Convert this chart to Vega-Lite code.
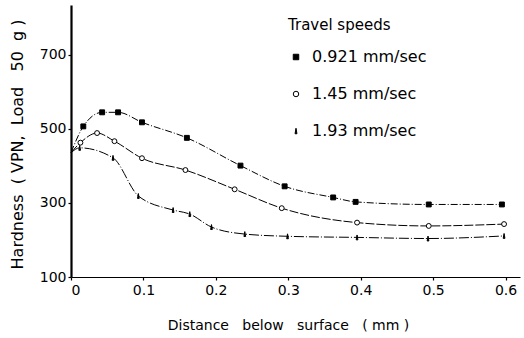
{
  "$schema": "https://vega.github.io/schema/vega-lite/v6.json",
  "width": 449,
  "height": 272,
  "autosize": {"type": "none"},
  "padding": {"left": 71, "top": 5, "right": 4, "bottom": 61},
  "background": "white",
  "config": {
    "view": {"stroke": null},
    "font": "DejaVu Sans",
    "axis": {"grid": false, "domainColor": "black", "tickColor": "black", "labelColor": "black", "titleColor": "black", "labelFont": "DejaVu Sans", "titleFont": "DejaVu Sans", "titleFontWeight": "normal"}
  },
  "data": {
    "values": [
      {"speed": "0.921 mm/sec", "d": 0.0, "hv": 436},
      {"speed": "0.921 mm/sec", "d": 0.017, "hv": 507},
      {"speed": "0.921 mm/sec", "d": 0.043, "hv": 545},
      {"speed": "0.921 mm/sec", "d": 0.065, "hv": 545},
      {"speed": "0.921 mm/sec", "d": 0.098, "hv": 518},
      {"speed": "0.921 mm/sec", "d": 0.160, "hv": 476},
      {"speed": "0.921 mm/sec", "d": 0.234, "hv": 401},
      {"speed": "0.921 mm/sec", "d": 0.295, "hv": 345},
      {"speed": "0.921 mm/sec", "d": 0.362, "hv": 315},
      {"speed": "0.921 mm/sec", "d": 0.393, "hv": 303},
      {"speed": "0.921 mm/sec", "d": 0.494, "hv": 296},
      {"speed": "0.921 mm/sec", "d": 0.595, "hv": 296},
      {"speed": "1.45 mm/sec", "d": 0.0, "hv": 436},
      {"speed": "1.45 mm/sec", "d": 0.013, "hv": 463},
      {"speed": "1.45 mm/sec", "d": 0.036, "hv": 489},
      {"speed": "1.45 mm/sec", "d": 0.060, "hv": 467},
      {"speed": "1.45 mm/sec", "d": 0.098, "hv": 421},
      {"speed": "1.45 mm/sec", "d": 0.158, "hv": 389},
      {"speed": "1.45 mm/sec", "d": 0.226, "hv": 337},
      {"speed": "1.45 mm/sec", "d": 0.291, "hv": 286},
      {"speed": "1.45 mm/sec", "d": 0.395, "hv": 247},
      {"speed": "1.45 mm/sec", "d": 0.494, "hv": 238},
      {"speed": "1.45 mm/sec", "d": 0.598, "hv": 243},
      {"speed": "1.93 mm/sec", "d": 0.0, "hv": 436},
      {"speed": "1.93 mm/sec", "d": 0.012, "hv": 449},
      {"speed": "1.93 mm/sec", "d": 0.058, "hv": 422},
      {"speed": "1.93 mm/sec", "d": 0.093, "hv": 319},
      {"speed": "1.93 mm/sec", "d": 0.141, "hv": 281},
      {"speed": "1.93 mm/sec", "d": 0.164, "hv": 270},
      {"speed": "1.93 mm/sec", "d": 0.194, "hv": 235},
      {"speed": "1.93 mm/sec", "d": 0.240, "hv": 216},
      {"speed": "1.93 mm/sec", "d": 0.299, "hv": 210},
      {"speed": "1.93 mm/sec", "d": 0.395, "hv": 207},
      {"speed": "1.93 mm/sec", "d": 0.493, "hv": 204},
      {"speed": "1.93 mm/sec", "d": 0.598, "hv": 211}
    ]
  },
  "encoding": {
    "x": {
      "field": "d", "type": "quantitative",
      "scale": {"domain": [0, 0.62], "nice": false, "zero": false},
      "axis": {
        "values": [0, 0.1, 0.2, 0.3, 0.4, 0.5, 0.6], "format": "~g",
        "title": "Distance\u00a0\u00a0\u00a0below\u00a0\u00a0\u00a0surface\u00a0\u00a0\u00a0(\u00a0mm\u00a0)",
        "titleFontSize": 14, "titleX": 217, "titleY": 48, "titleBaseline": "middle",
        "labelFontSize": 14, "tickSize": 3, "labelPadding": 3,
        "domainWidth": 1.2, "tickWidth": 1.2
      }
    },
    "y": {
      "field": "hv", "type": "quantitative",
      "scale": {"domain": [100, 835], "nice": false, "zero": false},
      "axis": {
        "values": [100, 300, 500, 700],
        "title": "Hardness\u00a0\u00a0(\u00a0VPN,\u00a0\u00a0Load\u00a0\u00a0\u00a050\u00a0\u00a0g\u00a0)",
        "titleFontSize": 16, "titleX": -54, "titleY": 139, "titleAngle": 270,
        "titleAlign": "center", "titleBaseline": "middle",
        "labelFontSize": 14, "tickSize": 3, "labelPadding": 2,
        "domainWidth": 2.2, "tickWidth": 1.2
      }
    }
  },
  "layer": [
    {
      "mark": {"type": "line", "interpolate": "monotone", "color": "black", "strokeWidth": 1},
      "encoding": {
        "detail": {"field": "speed"},
        "strokeDash": {
          "field": "speed", "type": "nominal", "legend": null,
          "scale": {"range": [[7, 2, 1, 2], [9, 2], [10, 2, 1, 2]]}
        }
      }
    },
    {
      "transform": [{"filter": "datum.d > 0"}],
      "mark": {"type": "point", "filled": true, "strokeWidth": 1, "opacity": 1},
      "encoding": {
        "shape": {
          "field": "speed", "type": "nominal",
          "scale": {"range": ["square", "circle", "M-0.35,1L0,-1L0.35,1Z"]},
          "legend": {
            "title": "Travel speeds", "orient": "none", "legendX": 217, "legendY": 13,
            "titleFontSize": 15, "titleFont": "DejaVu Sans", "titleFontWeight": "normal", "titleColor": "black",
            "titlePadding": 16, "labelFontSize": 16, "labelFont": "DejaVu Sans", "labelColor": "black",
            "rowPadding": 21, "symbolSize": 30, "symbolStrokeWidth": 1,
            "labelOffset": 8
          }
        },
        "fill": {
          "field": "speed", "type": "nominal",
          "scale": {"range": ["black", "white", "black"]}
        },
        "stroke": {
          "field": "speed", "type": "nominal",
          "scale": {"range": ["black", "black", "black"]}
        },
        "size": {"value": 24}
      }
    }
  ]
}
